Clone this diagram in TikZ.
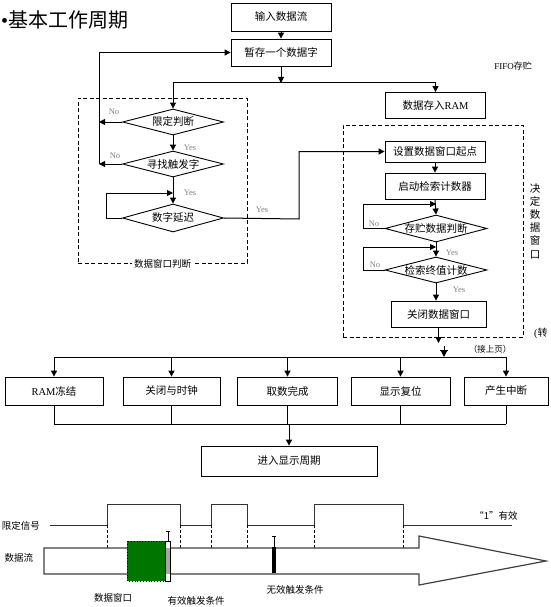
\documentclass[tikz,border=0pt]{standalone}
\usepackage{fontspec}
\setmainfont{Liberation Serif}
\newfontfamily\cjk{Noto Sans CJK SC}
\usetikzlibrary{arrows.meta,shapes.geometric}
\definecolor{wingreen}{RGB}{0,118,0}
\begin{document}
\begin{tikzpicture}[x=1pt,y=-1pt,
  box/.style={draw,line width=0.8pt,minimum width=100pt,minimum height=27pt,inner sep=0pt,font=\cjk\fontsize{10.5}{12}\selectfont},
  dia/.style={draw,diamond,line width=0.9pt,minimum width=101pt,minimum height=26pt,inner sep=0pt,font=\cjk\fontsize{10.5}{12}\selectfont},
  dbox/.style={draw,dashed,dash pattern=on 4pt off 2.5pt,line width=0.8pt,inner sep=0pt},
  arr/.style={line width=1pt,-{Triangle[length=6pt,width=6pt]}},
  ln/.style={line width=1pt},
  lab/.style={text=gray,font=\fontsize{8.5}{10}\selectfont,inner sep=0pt},
  tl/.style={font=\cjk\fontsize{9.5}{11}\selectfont,inner sep=0pt},
  sig/.style={line width=0.8pt,black!80},
]
\useasboundingbox (0,0) rectangle (550,607);

% title
\node[anchor=west,inner sep=0pt,font=\cjk\fontsize{20}{22}\selectfont] (title) at (1,20) {{\rmfamily •}基本工作周期};

% top boxes
\node[box,minimum height=28pt] (in) at (281,17) {输入数据流};
\node[box] (tmp) at (281,52.5) {暂存一个数据字};
\node[box,minimum height=26pt] (ram) at (435.5,105.5) {数据存入{\rmfamily RAM}};
\node[inner sep=0pt,font=\fontsize{9}{10}\selectfont] (fifo) at (513,66) {FIFO{\cjk 存贮}};

\draw[arr] (in) -- (tmp);
\coordinate (hl) at (281,83);
\coordinate (hlL) at (173,83);
\coordinate (hlR) at (435.5,83);
\draw[arr] (tmp) -- (hl);
\draw[ln] (hlL) -- (hlR);

% left dashed window
\node[dbox,minimum width=169pt,minimum height=165pt] (winL) at (162.5,180.5) {};
\node[fill=white,inner sep=2pt,font=\cjk\fontsize{9.5}{11}\selectfont] (winLlab) at (winL.south) {数据窗口判断};

\node[dia] (d1) at (173,122) {\makebox[0pt]{限定判断}};
\node[dia] (d2) at (173,164) {\makebox[0pt]{寻找触发字}};
\node[dia,minimum height=28pt] (d3) at (173,218) {\makebox[0pt]{数字延迟}};

\draw[arr] (hlL) -- (d1.north);
\draw[arr] (hlR) -- (ram.north);

\coordinate (lpB) at (99,164);
\draw[arr] (d1.west) -- (d1.west -| lpB);
\draw[arr] (d2.west) -- (lpB);
\draw[arr] (lpB) |- (tmp.west);
\node[lab] (no1) at (114,112) {No};
\node[lab] (no2) at (115,156) {No};

\draw[arr] (d1.south) -- (d2.north);
\node[lab] (y1) at (190,148) {Yes};
\draw[arr] (d2.south) -- (d3.north);
\node[lab] (y2) at (190,193) {Yes};
\coordinate (j3) at (173,193);
\draw[arr] (d3.west) -- ++(-16,0) |- (j3);

% right dashed window
\node[dbox,minimum width=180pt,minimum height=212pt] (winR) at (433,231) {};
\node[inner sep=0pt,align=center,font=\cjk\fontsize{10.5}{13.2}\selectfont] (winRlab) at (535,221) {决\\定\\数\\据\\窗\\口};
\node[anchor=west,inner sep=0pt,font=\fontsize{10}{12}\selectfont] (zhuan) at (534,333) {({\cjk 转}};

\node[box,minimum height=21pt] (set) at (435,151.5) {设置数据窗口起点};
\node[box,minimum height=26pt] (start) at (435,186) {启动检索计数器};
\node[dia,minimum width=102pt,minimum height=27pt] (d4) at (436,228.5) {\makebox[0pt]{存贮数据判断}};
\node[dia,minimum width=102pt,minimum height=26pt] (d5) at (436,270) {\makebox[0pt]{检索终值计数}};
\node[box,minimum width=95pt,minimum height=26pt] (close) at (438.5,314) {关闭数据窗口};

\coordinate (yk) at (299,219);
\draw[arr] (d3.east) -- (yk) |- (set.west);
\node[lab] (y3) at (262,210) {Yes};

\draw[arr] (set) -- (start);
\draw[arr] (start.south) -- (d4.north);
\coordinate (j4) at (436,204);
\draw[arr] (d4.west) -- (363,228.5) |- (j4);
\node[lab] (no3) at (374,224) {No};
\draw[arr] (d4.south) -- (d5.north);
\node[lab] (y4) at (452,253) {Yes};
\coordinate (j5) at (436,247);
\draw[arr] (d5.west) -- (363,270) |- (j5);
\node[lab] (no4) at (375,265) {No};
\draw[arr] (d5.south) -- (d5.south |- close.north);
\node[lab] (y5) at (459,290) {Yes};

\coordinate (cend) at (438.5,343);
\draw[arr] (close.south) -- (cend);

% bottom part
\node[inner sep=0pt,font=\cjk\fontsize{8.5}{10}\selectfont] (jie) at (490,349) {（接上页）};
\coordinate (h2L) at (54,357);
\coordinate (h2R) at (506,357);
\coordinate (cont) at (444,346);
\draw[ln] (h2L) -- (h2R);
\draw[arr] (cont) -- (444,357);
\draw[ln] (440,350) -- (448,350);

\node[box,minimum width=98pt,minimum height=28pt] (b1) at (54,391) {{\rmfamily RAM}冻结};
\node[box,minimum width=97pt,minimum height=28pt] (b2) at (171.5,391) {关闭与时钟};
\node[box,minimum width=100pt,minimum height=28pt] (b3) at (287.5,391) {取数完成};
\node[box,minimum width=99pt,minimum height=28pt] (b4) at (400.5,391) {显示复位};
\node[box,minimum width=84pt,minimum height=28pt] (b5) at (506,391) {产生中断};

\foreach \b in {b1,b2,b3,b4,b5}{
  \draw[arr] (\b.north |- h2L) -- (\b.north);
  \draw[ln] (\b.south) -- (\b.south |- 0,424);
}
\draw[ln] (54,424) -- (506,424);
\node[box,minimum width=176pt,minimum height=30pt] (enter) at (289,461) {进入显示周期};
\draw[arr] (enter.north |- 0,424) -- (enter.north);

% timing diagram
\node[tl,anchor=east] (sigl) at (40,526) {限定信号};
\node[tl] (dsl) at (19,558) {数据流};
\node[tl] (one) at (496,516) {“1”有效};
\draw[sig] (50,525) -- (107,525) -- (107,504) -- (180,504) -- (180,525) -- (211,525) -- (211,504) -- (247,504) -- (247,525) -- (314,525) -- (314,504) -- (403,504) -- (403,525) -- (512,525);
\foreach \x in {107,180,211,247,314,403}{
  \draw[dashed,dash pattern=on 3pt off 2pt,line width=0.8pt] (\x,525) -- (\x,548);
}
\draw[line width=1.2pt,black!75,fill=white] (44,548) -- (419,548) -- (419,536) -- (546,561) -- (419,585) -- (419,574) -- (44,574) -- cycle;
\fill[wingreen] (127,541) rectangle (165,581);
\draw[dotted,line width=0.8pt] (127,541) rectangle (165,581);
\draw[line width=0.6pt,fill=white] (165,541) rectangle (170.5,581);
\fill[gray!70] (165.5,548) rectangle (170,574);
\draw[line width=0.6pt] (167.8,541) -- (167.8,531) (165.5,531) -- (170,531);
\fill[black] (271.5,547) rectangle (276,573);
\draw[line width=0.6pt] (273.8,547) -- (273.8,536) (271.5,536) -- (276,536);
\node[tl] (dwl) at (113,598) {数据窗口};
\node[tl] (yxl) at (196,601) {有效触发条件};
\node[tl] (wxl) at (295,590) {无效触发条件};
\end{tikzpicture}
\end{document}
